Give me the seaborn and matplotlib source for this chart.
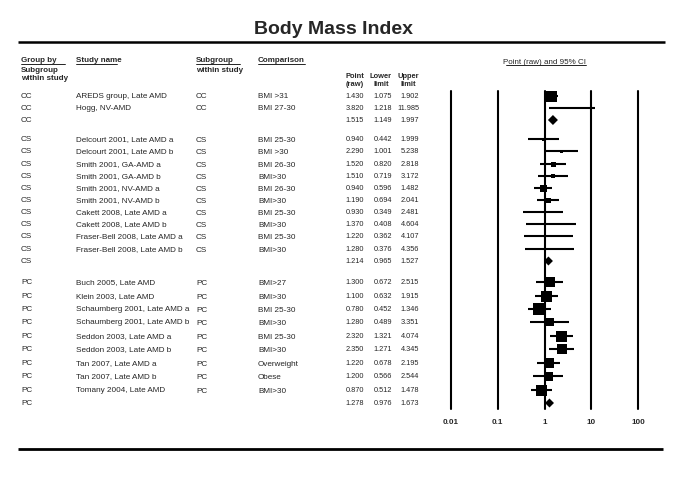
import matplotlib
matplotlib.use("Agg")
import matplotlib.pyplot as plt
import seaborn as sns
import pandas as pd

# ---------------- data ----------------
group = ["CC", "CC", "CC",
         "CS", "CS", "CS", "CS", "CS", "CS", "CS", "CS", "CS", "CS", "CS",
         "PC", "PC", "PC", "PC", "PC", "PC", "PC", "PC", "PC", "PC"]
study = ["AREDS group, Late AMD", "Hogg, NV-AMD", "",
         "Delcourt 2001, Late AMD a", "Delcourt 2001, Late AMD b",
         "Smith 2001, GA-AMD a", "Smith 2001, GA-AMD b",
         "Smith 2001, NV-AMD a", "Smith 2001, NV-AMD b",
         "Cakett 2008, Late AMD a", "Cakett 2008, Late AMD b",
         "Fraser-Bell 2008, Late AMD a", "Fraser-Bell 2008, Late AMD b", "",
         "Buch 2005, Late AMD", "Klein 2003, Late AMD",
         "Schaumberg 2001, Late AMD a", "Schaumberg 2001, Late AMD b",
         "Seddon 2003, Late AMD a", "Seddon 2003, Late AMD b",
         "Tan 2007, Late AMD a", "Tan 2007, Late AMD b",
         "Tomany 2004, Late AMD", ""]
subgroup = ["CC", "CC", "",
            "CS", "CS", "CS", "CS", "CS", "CS", "CS", "CS", "CS", "CS", "",
            "PC", "PC", "PC", "PC", "PC", "PC", "PC", "PC", "PC", ""]
comparison = ["BMI >31", "BMI 27-30", "",
              "BMI 25-30", "BMI >30", "BMI 26-30", "BMI>30", "BMI 26-30", "BMI>30",
              "BMI 25-30", "BMI>30", "BMI 25-30", "BMI>30", "",
              "BMI>27", "BMI>30", "BMI 25-30", "BMI>30", "BMI 25-30", "BMI>30",
              "Overweight", "Obese", "BMI>30", ""]
point = [1.430, 3.820, 1.515,
         0.940, 2.290, 1.520, 1.510, 0.940, 1.190, 0.930, 1.370, 1.220, 1.280, 1.214,
         1.300, 1.100, 0.780, 1.280, 2.320, 2.350, 1.220, 1.200, 0.870, 1.278]
lower = [1.075, 1.218, 1.149,
         0.442, 1.001, 0.820, 0.719, 0.596, 0.694, 0.349, 0.408, 0.362, 0.376, 0.965,
         0.672, 0.632, 0.452, 0.489, 1.321, 1.271, 0.678, 0.566, 0.512, 0.976]
upper = [1.902, 11.985, 1.997,
         1.999, 5.238, 2.818, 3.172, 1.482, 2.041, 2.481, 4.604, 4.107, 4.356, 1.527,
         2.515, 1.915, 1.346, 3.351, 4.074, 4.345, 2.195, 2.544, 1.478, 1.673]
axis_ticks = [0.01, 0.1, 1, 10, 100]
axis_tick_labels = ["0.01", "0.1", "1", "10", "100"]

# ---------------- layout / style (not data) ----------------
row_y = [97, 109, 121,
         140, 152, 165, 177, 189, 201, 213, 225, 237, 250, 262,
         283, 297, 310, 323, 337, 350, 364, 377, 391, 404]
box_px = [11, 2, 10,
          3, 3, 5, 4, 7, 5, 2, 2, 2, 2, 9,
          10, 11, 12, 8, 11, 10, 10, 9, 11, 9]

sns.set_theme(style="white")
plt.rcParams["font.family"] = ["Liberation Sans", "DejaVu Sans"]

df = pd.DataFrame({"group": group, "study": study, "subgroup": subgroup,
                   "comparison": comparison, "point": point, "lower": lower,
                   "upper": upper, "y": row_y, "px": box_px})
df["summary"] = df["study"] == ""
PX2PT = 72 / 100.0
df["s_sq"] = (df["px"] * PX2PT) ** 2
df["s_di"] = (df["px"] / 1.414 * PX2PT) ** 2

fig = plt.figure(figsize=(6.85, 4.81), dpi=100)
fig.patch.set_facecolor("white")

# background axes in pixel coordinates for table text
bg = fig.add_axes([0, 0, 1, 1])
bg.set_xlim(0, 685)
bg.set_ylim(481, 0)
bg.axis("off")

bg.text(334, 30, "Body Mass Index", fontsize=14, weight="bold", ha="center", va="center")
bg.plot([18, 665], [43, 43], color="black", lw=1.8, solid_capstyle="butt")
bg.plot([18, 663], [450, 450], color="black", lw=2.0, solid_capstyle="butt")

hdr = dict(fontsize=5.8, weight="bold", va="center", ha="left")
bg.text(21, 61, "Group by", **hdr)
bg.text(21, 70, "Subgroup", **hdr)
bg.text(21, 79, "within study", **hdr)
bg.plot([21, 65], [64.5, 64.5], color="black", lw=0.6)
bg.text(76, 61, "Study name", **hdr)
bg.plot([76, 117], [64.5, 64.5], color="black", lw=0.6)
bg.text(196, 61, "Subgroup", **hdr)
bg.text(196, 70, "within study", **hdr)
bg.plot([196, 240], [64.5, 64.5], color="black", lw=0.6)
bg.text(258, 61, "Comparison", **hdr)
bg.plot([258, 305], [64.5, 64.5], color="black", lw=0.6)

hdr_c = dict(fontsize=5.4, weight="bold", va="center", ha="center")
for xc, l1, l2 in [(355, "Point", "(raw)"), (381, "Lower", "limit"), (408, "Upper", "limit")]:
    bg.text(xc, 76, l1, **hdr_c)
    bg.text(xc, 84, l2, **hdr_c)

bg.text(545, 62, "Point (raw) and 95% CI", fontsize=5.8, va="center", ha="center")
bg.plot([506, 586], [65.5, 65.5], color="black", lw=0.6)

txt = dict(fontsize=5.9, va="center", ha="left")
num = dict(fontsize=5.3, va="center", ha="right")
for _, r in df.iterrows():
    y = r["y"]
    bg.text(21, y, r["group"], **txt)
    bg.text(76, y, r["study"], **txt)
    off = 0 if r["group"] == "CC" else 1
    bg.text(196, y + off, r["subgroup"], **txt)
    bg.text(258, y + off, r["comparison"], **txt)
    bg.text(364, y, f"{r['point']:.3f}", **num)
    bg.text(392, y, f"{r['lower']:.3f}", **num)
    bg.text(419, y, f"{r['upper']:.3f}", **num)

# forest axes
ax = fig.add_axes([451 / 685, 1 - 410 / 481, 187 / 685, 318 / 481])
ax.set_xscale("log")
ax.set_xlim(axis_ticks[0], axis_ticks[-1])
ax.set_ylim(410, 92)
ax.axis("off")
for t, lab in zip(axis_ticks, axis_tick_labels):
    ax.axvline(t, color="black", lw=1.5, clip_on=False)
    ax.text(t, 423, lab, fontsize=5.8, weight="bold", ha="center", va="center", clip_on=False)

studies = df[~df["summary"]]
sums = df[df["summary"]]
ax.hlines(studies["y"], studies["lower"], studies["upper"], color="black", lw=1.5)
sns.scatterplot(data=studies, x="point", y="y", marker="s", s=studies["s_sq"].values,
                color="black", linewidth=0, legend=False, ax=ax)
sns.scatterplot(data=sums, x="point", y="y", marker="D", s=sums["s_di"].values,
                color="black", linewidth=0, legend=False, ax=ax)
ax.set_xlabel("")
ax.set_ylabel("")
ax.axis("off")

fig.savefig("out.png", dpi=100, facecolor="white")
